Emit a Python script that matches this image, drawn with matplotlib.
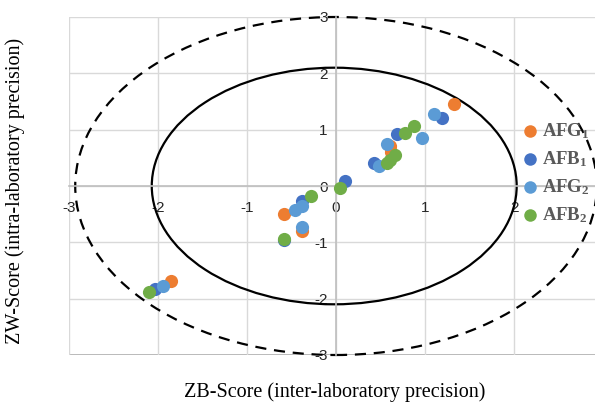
import matplotlib
matplotlib.use("Agg")
import matplotlib.pyplot as plt
from matplotlib.patches import Ellipse

plt.rcParams['axes.unicode_minus'] = False
plt.rcParams['mathtext.fontset'] = 'custom'
plt.rcParams['mathtext.rm'] = 'Liberation Serif'
plt.rcParams['mathtext.bf'] = 'Liberation Serif:bold'

series_names = [r'$\mathbf{AFG_1}$', r'$\mathbf{AFB_1}$', r'$\mathbf{AFG_2}$', r'$\mathbf{AFB_2}$']
colors = ['#ED7D31', '#4472C4', '#5B9BD5', '#70AD47']

afg1_x = [1.33, 0.61, 0.62, -0.58, -0.38, -1.85]
afg1_y = [1.45, 0.71, 0.60, -0.50, -0.80, -1.68]
afb1_x = [1.19, 0.69, 0.43, 0.10, -0.38, -0.58, -2.03]
afb1_y = [1.21, 0.93, 0.41, 0.09, -0.27, -0.96, -1.83]
afg2_x = [1.10, 0.97, 0.57, 0.48, -0.38, -0.46, -0.38, -1.94]
afg2_y = [1.27, 0.85, 0.74, 0.35, -0.35, -0.43, -0.73, -1.77]
afb2_x = [0.88, 0.78, 0.66, 0.61, 0.57, 0.04, -0.28, -0.58, -2.10]
afb2_y = [1.06, 0.94, 0.55, 0.47, 0.41, -0.03, -0.18, -0.94, -1.89]

xs = [afg1_x, afb1_x, afg2_x, afb2_x]
ys = [afg1_y, afb1_y, afg2_y, afb2_y]

x_ticks = [-3, -2, -1, 0, 1, 2]
y_ticks = [-3, -2, -1, 0, 1, 2, 3]

fig = plt.figure(figsize=(5.95, 4.04), dpi=100)
ax = fig.add_axes([69/595, 1-355/404, 1-69/595, (355-17)/404])
ax.set_xlim(-3, 2.91)
ax.set_ylim(-3, 3)

ax.set_xticks(x_ticks)
ax.set_yticks(y_ticks)
ax.grid(True, color='#d9d9d9', lw=1.0, zorder=0)
ax.set_axisbelow(True)

for s in ['right', 'top']:
    ax.spines[s].set_visible(False)
ax.spines['left'].set_position(('data', 0))
ax.spines['bottom'].set_position(('data', 0))
for s in ['left', 'bottom']:
    ax.spines[s].set_color('#bfbfbf')
    ax.spines[s].set_linewidth(1.2)
# outer frame lines
ax.axvline(-3, color='#a6a6a6', lw=1.2, zorder=0.5)
ax.axhline(3, color='#a6a6a6', lw=1.2, zorder=0.5)
ax.axhline(-3, color='#a6a6a6', lw=1.2, zorder=0.5)

ax.tick_params(axis='both', length=0, labelsize=11, colors='#262626', labelfontfamily='Liberation Sans')
ax.tick_params(axis='x', pad=11)
ax.tick_params(axis='y', pad=6)

# ellipses
ax.add_patch(Ellipse((-0.02, 0), 4.1, 4.2, fill=False, ec='black', lw=1.6, zorder=2))
ax.add_patch(Ellipse((0, 0), 5.86, 6.0, fill=False, ec='black', lw=1.6, ls=(0, (5, 3.5)), zorder=2, clip_on=False))

for x, y, c, n in zip(xs, ys, colors, series_names):
    ax.scatter(x, y, s=90, color=c, label=n, zorder=3, linewidths=0)

leg = ax.legend(loc='upper left', bbox_to_anchor=(520/595, 1-121/404), bbox_transform=fig.transFigure,
                frameon=False, fontsize=13.5, handletextpad=0.05, handlelength=1.1, markerscale=0.95,
                labelspacing=0.45, borderaxespad=0, borderpad=0)
for t in leg.get_texts():
    t.set_color('#595959')

fig.text(335/595, 1-392/404, 'ZB-Score (inter-laboratory precision)', ha='center', va='center',
         fontsize=14.5, family='Liberation Serif')
fig.text(15/595, 1-191/404, 'ZW-Score (intra-laboratory precision)', ha='center', va='center',
         rotation=90, fontsize=14.5, family='Liberation Serif')

fig.savefig('out.png', dpi=100)
